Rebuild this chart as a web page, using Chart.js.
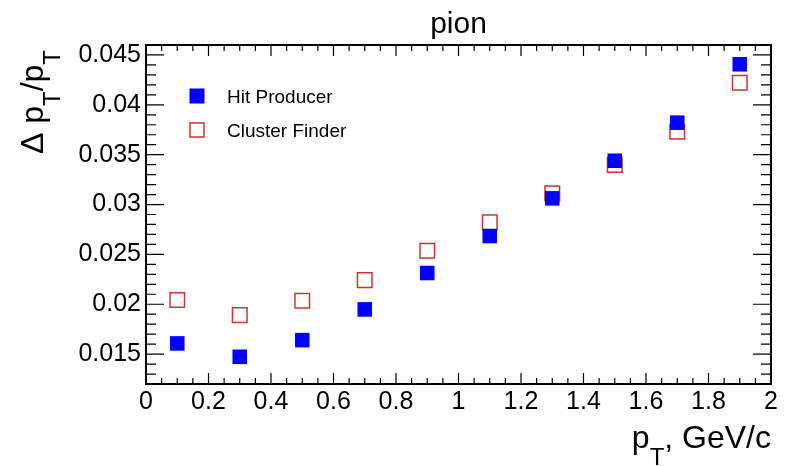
<!DOCTYPE html>
<html>
<head>
<meta charset="utf-8">
<script src="https://cdn.jsdelivr.net/npm/chart.js@4/dist/chart.umd.min.js"></script>
<style>
  html, body { margin: 0; padding: 0; background: #fff; }
  #wrap { width: 789px; height: 466px; }
</style>
</head>
<body>
<div id="wrap"><canvas id="chart" width="789" height="466"></canvas></div>
<script>
const ptValues = [0.1, 0.3, 0.5, 0.7, 0.9, 1.1, 1.3, 1.5, 1.7, 1.9];
const hitProducer = [0.01607, 0.01473, 0.0164, 0.01948, 0.02313, 0.02684, 0.03062, 0.03439, 0.03821, 0.04407];
const clusterFinder = [0.02042, 0.01891, 0.02035, 0.02242, 0.02536, 0.02821, 0.03112, 0.03396, 0.0373, 0.04222];
const xTicks = [0, 0.2, 0.4, 0.6, 0.8, 1, 1.2, 1.4, 1.6, 1.8, 2];
const yTicks = [0.015, 0.02, 0.025, 0.03, 0.035, 0.04, 0.045];
const seriesNames = ["Hit Producer", "Cluster Finder"];

const FONT = "'Liberation Sans', Arial, sans-serif";
const BLUE = "#0000ff";
const RED = "#cc3333";

// draw text made of pieces, some of them subscripts
function richWidth(ctx, parts, size) {
    let w = 0;
    parts.forEach(p => {
        ctx.font = (p.sub ? size * 0.75 : size) + "px " + FONT;
        w += ctx.measureText(p.t).width;
    });
    return w;
}
function drawRich(ctx, parts, x, y, size, align) {
    let cx = align === "right" ? x - richWidth(ctx, parts, size) : x;
    ctx.textAlign = "left";
    ctx.textBaseline = "alphabetic";
    parts.forEach(p => {
        ctx.font = (p.sub ? size * 0.75 : size) + "px " + FONT;
        ctx.fillText(p.t, cx, p.sub ? y + size * 0.52 : y);
        cx += ctx.measureText(p.t).width;
    });
}

const frame = {
    id: "frame",
    afterDraw(chart) {
        const ctx = chart.ctx;
        const a = chart.chartArea;
        const xs = chart.scales.x, ys = chart.scales.y;
        ctx.save();
        ctx.strokeStyle = "#000";
        ctx.fillStyle = "#000";

        // ticks inside the frame, all four sides
        ctx.lineWidth = 1.2;
        ctx.beginPath();
        for (let i = 0; i <= 40; i++) {
            const v = i * 0.05;
            const px = xs.getPixelForValue(v);
            const len = i % 4 === 0 ? 11 : 6;
            ctx.moveTo(px, a.bottom); ctx.lineTo(px, a.bottom - len);
            ctx.moveTo(px, a.top); ctx.lineTo(px, a.top + len);
        }
        for (let i = 12; i <= 46; i++) {
            const v = i * 0.001;
            const py = ys.getPixelForValue(v);
            const len = i % 5 === 0 ? 18 : 10;
            ctx.moveTo(a.left, py); ctx.lineTo(a.left + len, py);
            ctx.moveTo(a.right, py); ctx.lineTo(a.right - len, py);
        }
        ctx.stroke();

        ctx.lineWidth = 2;
        ctx.strokeRect(a.left, a.top, a.right - a.left, a.bottom - a.top);

        // title
        ctx.font = "30px " + FONT;
        ctx.textAlign = "center";
        ctx.textBaseline = "alphabetic";
        ctx.fillText("pion", (a.left + a.right) / 2, 33);

        // x axis title
        drawRich(ctx, [{t: "p"}, {t: "T", sub: true}, {t: ", GeV/c"}], a.right, 448, 32, "right");

        // y axis title
        ctx.save();
        ctx.translate(43, 50);
        ctx.rotate(-Math.PI / 2);
        drawRich(ctx, [{t: "\u0394 p"}, {t: "T", sub: true}, {t: "/p"}, {t: "T", sub: true}], 0, 0, 32, "right");
        ctx.restore();

        // legend
        const ds = chart.data.datasets;
        const rows = [96, 130];
        ds.forEach((d, i) => {
            const y = rows[i];
            if (d.backgroundColor !== "transparent") {
                ctx.fillStyle = d.backgroundColor;
                ctx.fillRect(197 - 7.5, y - 7.5, 15, 15);
            } else {
                ctx.strokeStyle = d.borderColor;
                ctx.lineWidth = 1.5;
                ctx.strokeRect(197 - 7, y - 7, 14, 14);
            }
            ctx.fillStyle = "#000";
            ctx.font = "19px " + FONT;
            ctx.textAlign = "left";
            ctx.textBaseline = "alphabetic";
            ctx.fillText(d.label, 227, y + 6.5);
        });
        ctx.restore();
    }
};

const fmt = v => String(parseFloat(v.toFixed(4)));

new Chart(document.getElementById("chart"), {
    type: "scatter",
    data: {
        datasets: [
            {
                label: seriesNames[0],
                data: ptValues.map((x, i) => ({x: x, y: hitProducer[i]})),
                pointStyle: "rect",
                pointRadius: 10.3,
                backgroundColor: BLUE,
                borderColor: BLUE,
                borderWidth: 0
            },
            {
                label: seriesNames[1],
                data: ptValues.map((x, i) => ({x: x, y: clusterFinder[i]})),
                pointStyle: "rect",
                pointRadius: 10.3,
                backgroundColor: "transparent",
                borderColor: RED,
                borderWidth: 1.5
            }
        ]
    },
    options: {
        responsive: false,
        animation: false,
        layout: { padding: { top: 45, right: 18, left: 0, bottom: 0 } },
        plugins: { legend: { display: false }, tooltip: { enabled: false } },
        scales: {
            x: {
                type: "linear",
                min: 0,
                max: 2,
                afterBuildTicks: s => { s.ticks = xTicks.map(v => ({value: v})); },
                afterFit: s => { s.height = 82; },
                grid: { display: false, drawTicks: false },
                border: { display: false },
                ticks: {
                    padding: 3,
                    color: "#000",
                    font: { family: FONT, size: 25 },
                    maxRotation: 0,
                    autoSkip: false,
                    callback: fmt
                }
            },
            y: {
                type: "linear",
                min: 0.012,
                max: 0.046,
                afterBuildTicks: s => { s.ticks = yTicks.map(v => ({value: v})); },
                afterFit: s => { s.width = 146; },
                grid: { display: false, drawTicks: false },
                border: { display: false },
                ticks: {
                    padding: 5,
                    color: "#000",
                    font: { family: FONT, size: 25 },
                    autoSkip: false,
                    callback: fmt
                }
            }
        }
    },
    plugins: [frame]
});
</script>
</body>
</html>
